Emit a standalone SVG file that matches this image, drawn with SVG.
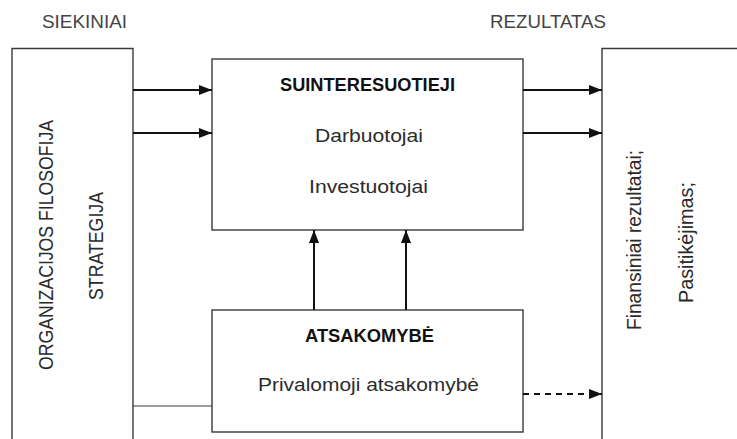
<svg xmlns="http://www.w3.org/2000/svg" width="737" height="439" viewBox="0 0 737 439">
<defs>
<marker id="ah" viewBox="0 0 13 10" refX="13" refY="5" markerWidth="13" markerHeight="10" markerUnits="userSpaceOnUse" orient="auto">
<path d="M0,0 L13,5 L0,10 z" fill="#111"/>
</marker>
<style>
.box{fill:#fff;stroke:#3a3a3a;stroke-width:1.4}
.frame{fill:none;stroke:#3a3a3a;stroke-width:1.4}
.t{font-family:"Liberation Sans",Arial,sans-serif;font-size:17.5px;fill:#2b2b2b;text-anchor:middle}
.h{fill:#444}
.b{font-weight:bold;fill:#111}
.v{font-size:21px}
.arr{stroke:#111;stroke-width:2;fill:none;marker-end:url(#ah)}
.thin{stroke:#3a3a3a;stroke-width:1.2;fill:none}
.dash{stroke:#111;stroke-width:2;fill:none;stroke-dasharray:6,5;marker-end:url(#ah)}
</style>
</defs>
<rect width="737" height="439" fill="#fff"/>
<g id="headers">
<text class="t h" x="84.5" y="28" textLength="85" lengthAdjust="spacingAndGlyphs">SIEKINIAI</text>
<text class="t h" x="548" y="28" textLength="116" lengthAdjust="spacingAndGlyphs">REZULTATAS</text>
</g>
<g id="siekiniai">
<path class="frame" d="M12,439 V48.5 H133 V439"/>
<text class="t v" transform="translate(53,245) rotate(-90)" x="0" y="0" textLength="250" lengthAdjust="spacingAndGlyphs">ORGANIZACIJOS FILOSOFIJA</text>
<text class="t v" transform="translate(103,246) rotate(-90)" x="0" y="0" textLength="108" lengthAdjust="spacingAndGlyphs">STRATEGIJA</text>
</g>
<g id="rezultatas">
<path class="frame" d="M737,48.5 H602 V439"/>
<text class="t v" transform="translate(641,240) rotate(-90)" x="0" y="0" textLength="180" lengthAdjust="spacingAndGlyphs">Finansiniai rezultatai;</text>
<text class="t v" transform="translate(693,242.5) rotate(-90)" x="0" y="0" textLength="121" lengthAdjust="spacingAndGlyphs">Pasitikėjimas;</text>
</g>
<g id="suinteresuotieji">
<rect class="box" x="212" y="59" width="311" height="171"/>
<text class="t b" x="367.5" y="91" textLength="175" lengthAdjust="spacingAndGlyphs">SUINTERESUOTIEJI</text>
<text class="t" x="369" y="142" textLength="108" lengthAdjust="spacingAndGlyphs">Darbuotojai</text>
<text class="t" x="368.5" y="193" textLength="119" lengthAdjust="spacingAndGlyphs">Investuotojai</text>
</g>
<g id="atsakomybe">
<rect class="box" x="212" y="310" width="311" height="122"/>
<text class="t b" x="369.5" y="342" textLength="129" lengthAdjust="spacingAndGlyphs">ATSAKOMYBĖ</text>
<text class="t" x="368.5" y="391" textLength="221" lengthAdjust="spacingAndGlyphs">Privalomoji atsakomybė</text>
</g>
<g id="connectors">
<line class="arr" x1="133" y1="90" x2="212" y2="90"/>
<line class="arr" x1="133" y1="133" x2="212" y2="133"/>
<line class="arr" x1="523" y1="90" x2="602" y2="90"/>
<line class="arr" x1="523" y1="133" x2="602" y2="133"/>
<line class="arr" x1="314" y1="310" x2="314" y2="230"/>
<line class="arr" x1="406" y1="310" x2="406" y2="230"/>
<line class="thin" x1="133" y1="406" x2="212" y2="406"/>
<line class="dash" x1="523" y1="394" x2="602" y2="394"/>
</g>
</svg>
